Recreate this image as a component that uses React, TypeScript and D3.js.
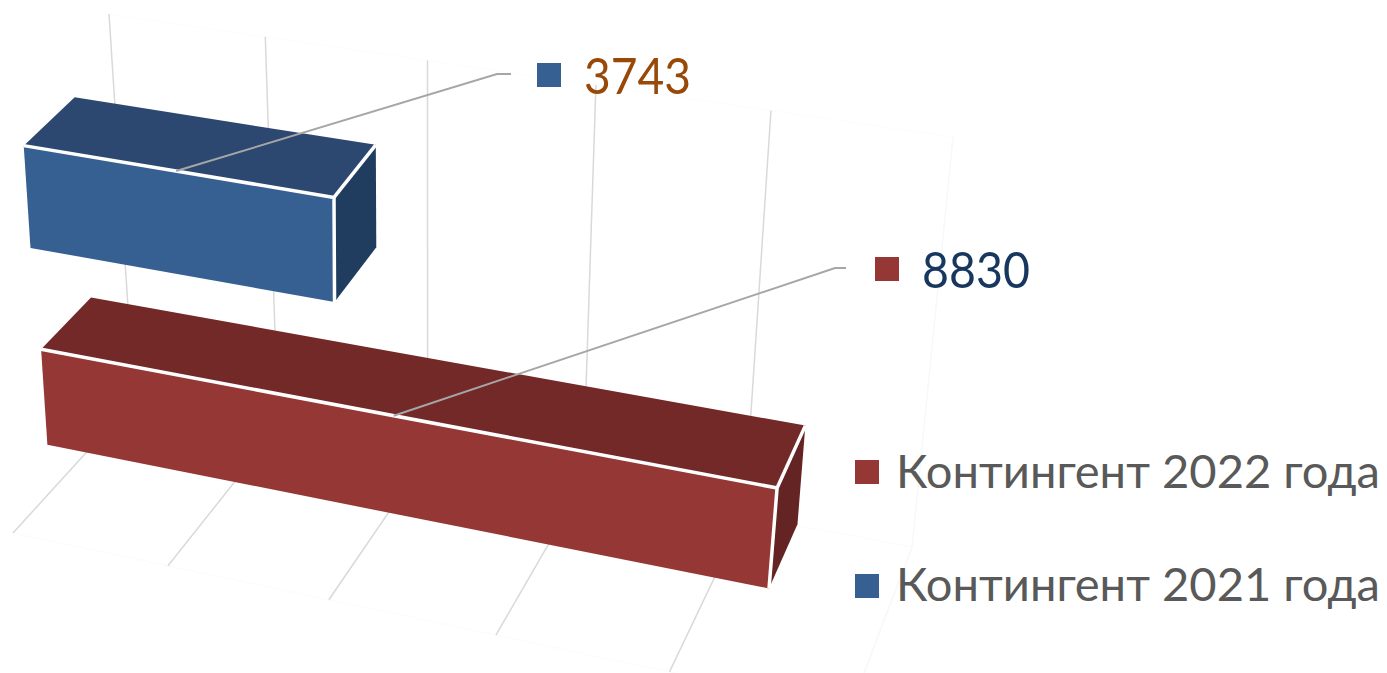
import React from "react";
import * as d3 from "d3";

const W = 1387;
const H = 673;

// Data
const seriesNames = ["Контингент 2022 года", "Контингент 2021 года"];
const seriesValues = [8830, 3743];
const valueTicks = [0, 2000, 4000, 6000, 8000, 10000];

// Styles per series
const frontColors = ["#953735", "#376092"];
const topColors = ["#722927", "#2c4770"];
const sideColors = ["#632423", "#203d5f"];
const labelColors = ["#17375e", "#984807"];

type Pt = [number, number];

// Projected corners of the 3D plot box (value 0 / max; back / front; floor / top)
const backFloor: [Pt, Pt] = [[134, 400], [912, 547]];
const frontFloor: [Pt, Pt] = [[13, 533], [850, 710]];
const backTop: [Pt, Pt] = [[109, 14], [953, 137]];
const frontTop: [Pt, Pt] = [[-14, 128], [893, 280]];

// Bar slots in the box: depth (0 back .. 1 front) and height (0 floor .. 1 top)
const depthBand: [number, number][] = [[0.28, 0.69], [0.305, 0.72]];
const heightBand: [number, number][] = [[0.118, 0.357], [0.62, 0.876]];

// Foreshortening along the value axis
const K = 1.1;
const valueScale = d3.scaleLinear().domain([0, 10000]).range([0, 1]);
const persp = (u: number) => u / (u + K * (1 - u));

const mix = (a: Pt, b: Pt, f: number): Pt => [a[0] + (b[0] - a[0]) * f, a[1] + (b[1] - a[1]) * f];

function project(v: number, depth: number, height: number): Pt {
  const t = persp(valueScale(v));
  const bf = mix(backFloor[0], backFloor[1], t);
  const ff = mix(frontFloor[0], frontFloor[1], t);
  const bt = mix(backTop[0], backTop[1], t);
  const ft = mix(frontTop[0], frontTop[1], t);
  return mix(mix(bf, ff, depth), mix(bt, ft, depth), height);
}

const line = d3.line<Pt>();
const poly = (pts: Pt[]) => (line(pts) as string) + "Z";

// Leader line elbows and label layout
const labelAnchors: { elbow: Pt; end: Pt; sq: Pt; text: Pt; w: number }[] = [
  { elbow: [835, 268], end: [846, 268], sq: [875, 257], text: [922, 288], w: 108 },
  { elbow: [497, 74], end: [511, 74], sq: [537, 63], text: [584, 94], w: 107 },
];
const legendRows = [{ x: 855, y: 460, tx: 896, ty: 488 }, { x: 855, y: 574, tx: 896, ty: 601 }];
const FONT = "Lato, 'Open Sans', sans-serif";

function Bar({ i }: { i: number }) {
  const v = seriesValues[i];
  const [d0, d1] = depthBand[i];
  const [h0, h1] = heightBand[i];
  const FTL = project(0, d1, h1);
  const FTR = project(v, d1, h1);
  const FBR = project(v, d1, h0);
  const FBL = project(0, d1, h0);
  const BTL = project(0, d0, h1);
  const BTR = project(v, d0, h1);
  const BBR = project(v, d0, h0);
  return (
    <g>
      <path d={poly([BTL, BTR, FTR, FTL])} fill={topColors[i]} />
      <path d={poly([BTR, BBR, FBR, FTR])} fill={sideColors[i]} />
      <path d={poly([FTL, FTR, FBR, FBL])} fill={frontColors[i]} />
      <path d={line([FTL, FTR, FBR]) as string} fill="none" stroke="#fff" strokeWidth={3.5} />
      <path d={line([FTR, BTR]) as string} fill="none" stroke="#fff" strokeWidth={3.5} />
    </g>
  );
}

export default function App() {
  return (
    <svg
      width={W}
      height={H}
      viewBox={`0 0 ${W} ${H}`}
      style={{ position: "fixed", left: 0, top: 0, background: "#fff", fontFamily: FONT }}
    >
      {/* faint box edges */}
      <path d={line([project(0, 0, 1), project(10000, 0, 1)]) as string} stroke="#fdfdfd" strokeWidth={1.5} fill="none" />
      <path d={line([project(0, 1, 0), project(10000, 1, 0)]) as string} stroke="#fcfcfc" strokeWidth={1.5} fill="none" />
      <path d={line([project(0, 0, 0), project(10000, 0, 0)]) as string} stroke="#fcfcfc" strokeWidth={1.5} fill="none" />
      {/* grid lines on wall and floor */}
      {valueTicks.map((t, i) => (
        <path
          key={t}
          d={line([project(t, 0, 1), project(t, 0, 0), project(t, 1, 0)]) as string}
          fill="none"
          stroke={i === valueTicks.length - 1 ? "#f8f8f8" : "#d9d9d9"}
          strokeWidth={1.5}
        />
      ))}
      {/* bars */}
      {seriesValues.map((_, i) => <Bar key={i} i={i} />)}
      {/* leader lines and data labels */}
      {seriesValues.map((v, i) => {
        const a = labelAnchors[i];
        const start = project(v / 2, depthBand[i][1], heightBand[i][1]);
        return (
          <g key={i}>
            <path d={line([start, a.elbow, a.end]) as string} fill="none" stroke="#a6a6a6" strokeWidth={2} />
            <rect x={a.sq[0]} y={a.sq[1]} width={24} height={24} fill={frontColors[i]} />
            <text
              x={a.text[0]}
              y={a.text[1]}
              fontSize={50}
              fill={labelColors[i]}
              textLength={a.w}
              lengthAdjust="spacingAndGlyphs"
            >
              {v}
            </text>
          </g>
        );
      })}
      {/* legend */}
      {seriesNames.map((name, i) => (
        <g key={name}>
          <rect x={legendRows[i].x} y={legendRows[i].y} width={24} height={24} fill={frontColors[i]} />
          <text
            x={legendRows[i].tx}
            y={legendRows[i].ty}
            fontSize={47}
            fill="#595959"
            textLength={484}
            lengthAdjust="spacingAndGlyphs"
          >
            {name}
          </text>
        </g>
      ))}
    </svg>
  );
}
